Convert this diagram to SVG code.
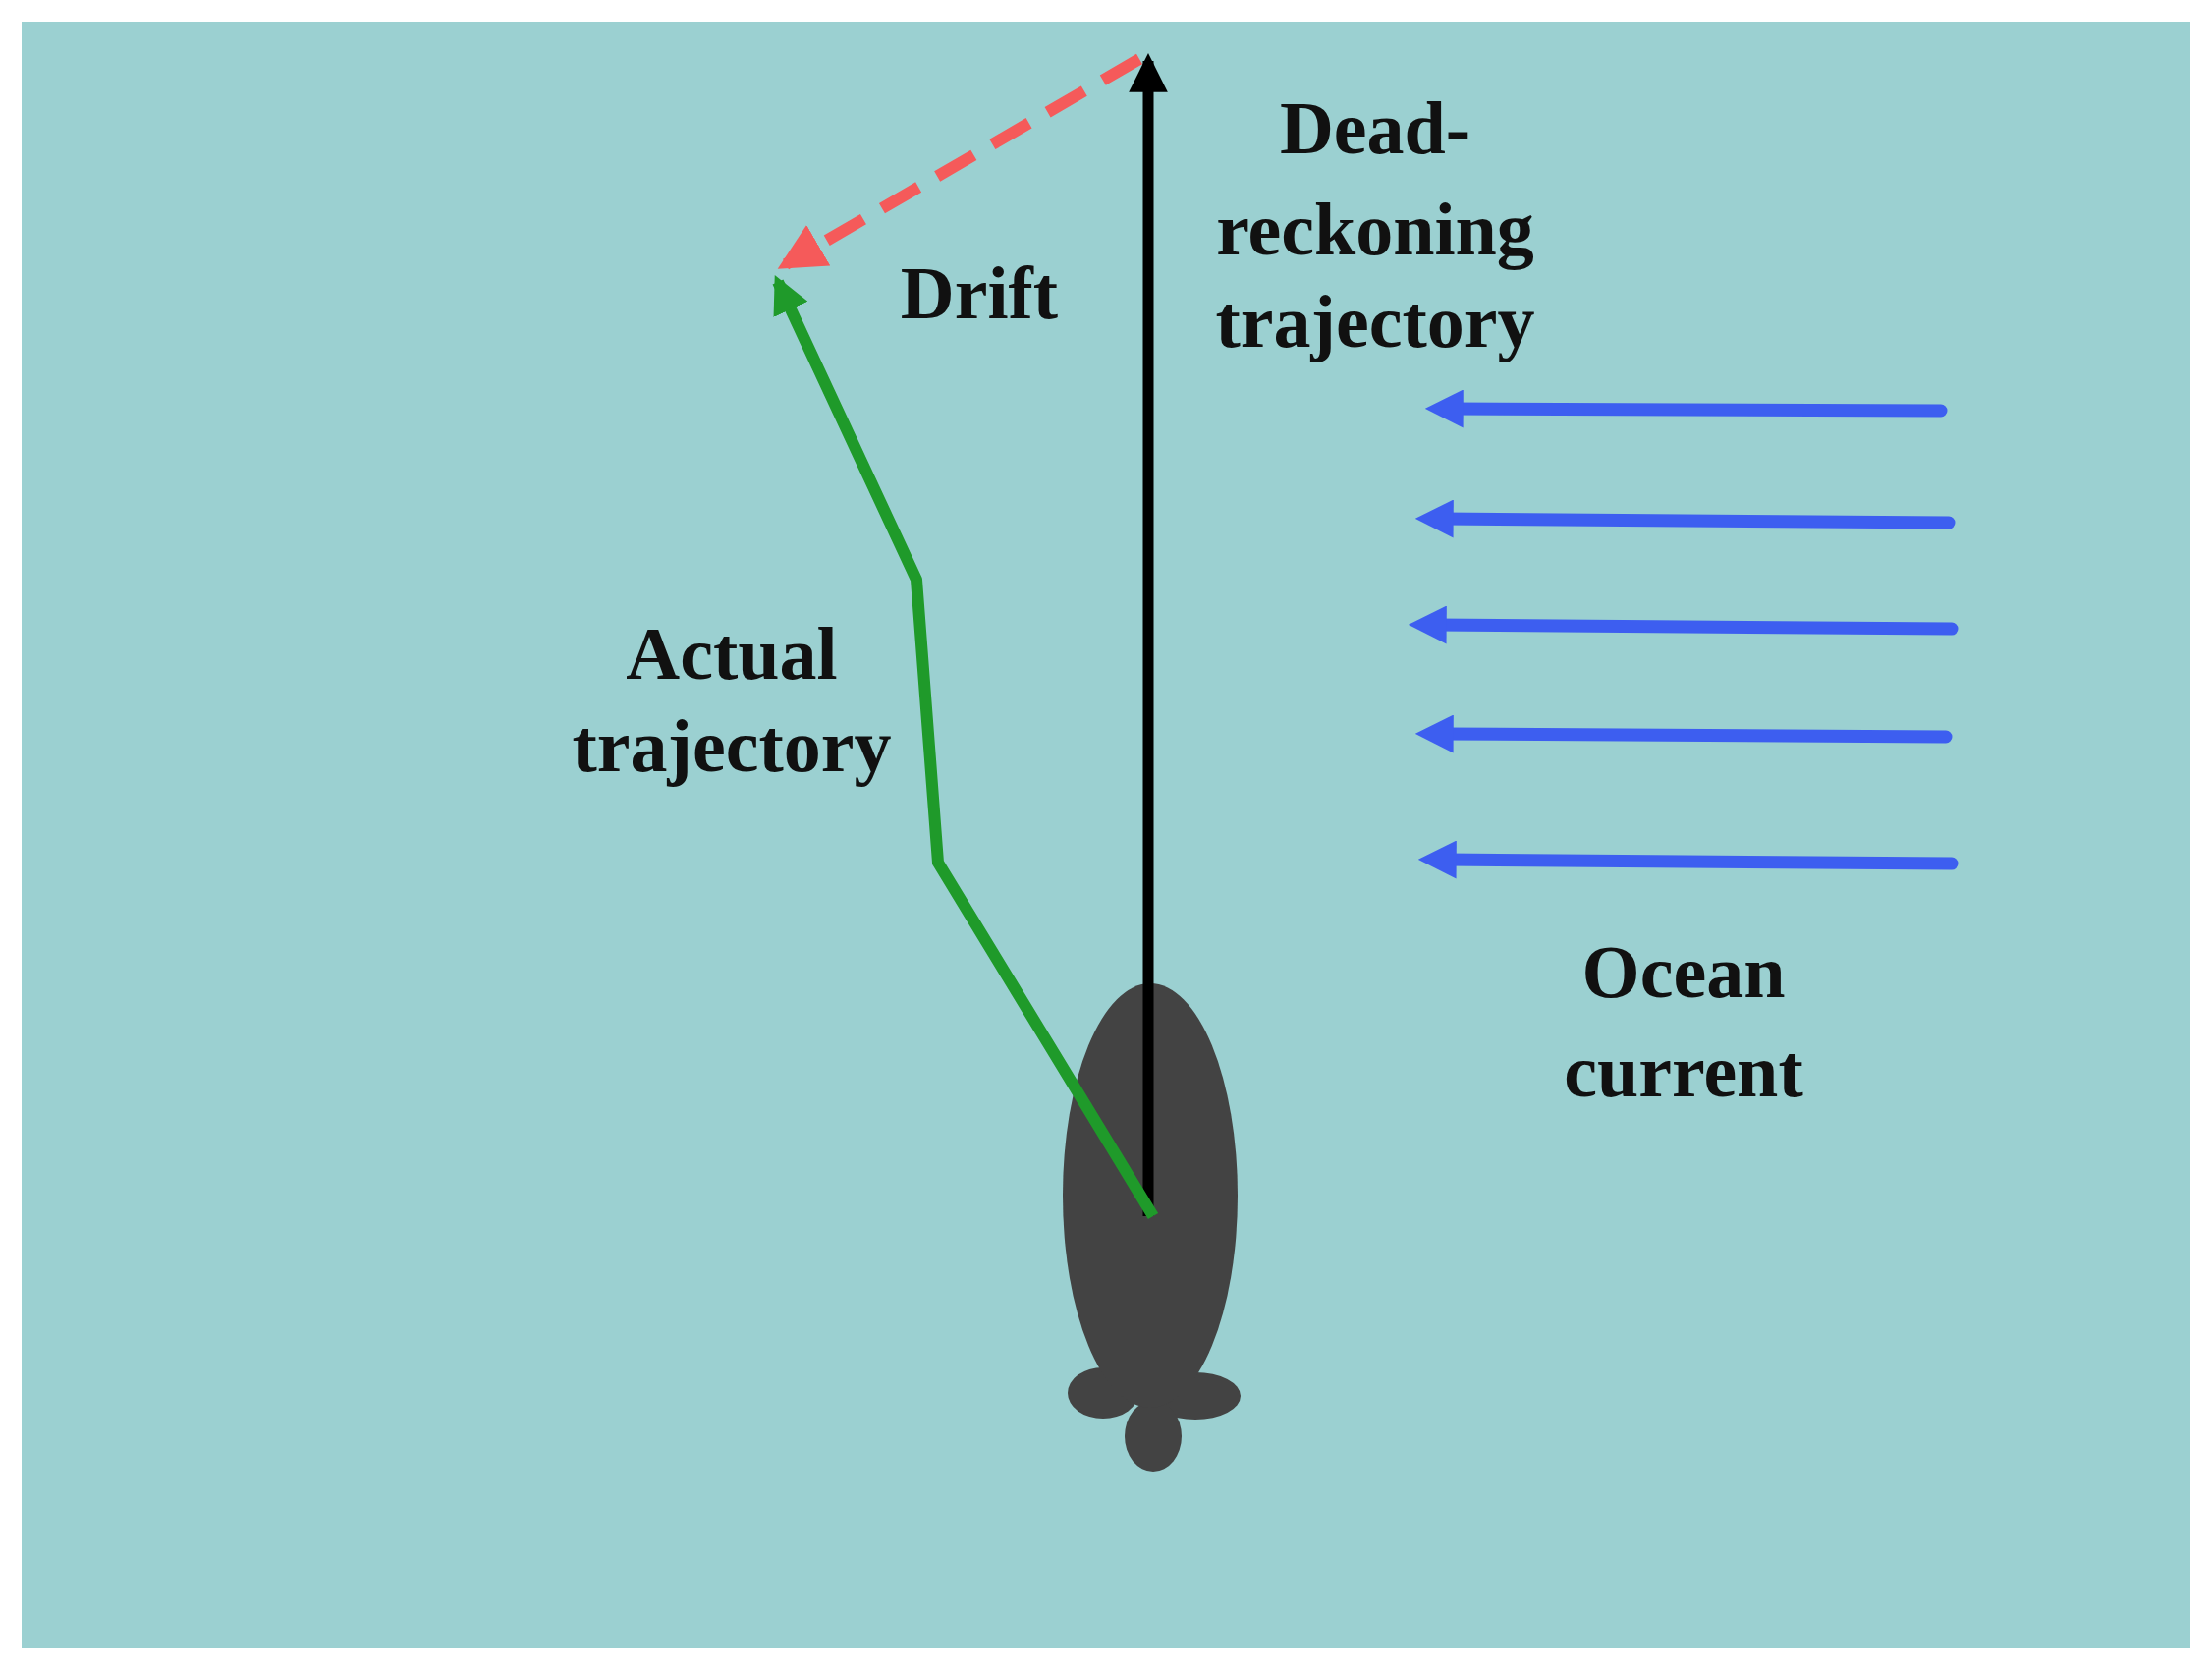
<svg xmlns="http://www.w3.org/2000/svg" width="2252" height="1702" viewBox="0 0 2252 1702">
<defs>
<style>
text{font-family:"Liberation Serif","DejaVu Serif",serif;font-weight:bold;font-size:76px;fill:#111;text-anchor:middle}
.blue{stroke:#3d5ef0;stroke-width:13;stroke-linecap:round;fill:none}
</style>
<marker id="ab" viewBox="0 0 10 10" refX="3" refY="5" markerWidth="3" markerHeight="3" orient="auto"><path d="M0,0L10,5L0,10z" fill="#3d5ef0"/></marker>
<marker id="ak" viewBox="0 0 10 10" refX="8" refY="5" markerWidth="3.6" markerHeight="3.6" orient="auto"><path d="M0,0L10,5L0,10z" fill="#000"/></marker>
<marker id="ar" viewBox="0 0 10 10" refX="8" refY="5" markerWidth="4" markerHeight="4" orient="auto"><path d="M0,0L10,5L0,10z" fill="#f55a5a"/></marker>
<marker id="ag" viewBox="0 0 10 10" refX="8" refY="5" markerWidth="3.2" markerHeight="3.2" orient="auto"><path d="M0,0L10,5L0,10z" fill="#1f9a2a"/></marker>
</defs>
<rect width="2252" height="1702" fill="#fff"/>
<rect x="22" y="22" width="2208" height="1656" fill="#9bd0d1"/>
<g id="vehicle" fill="#434343">
<ellipse cx="1123" cy="1418" rx="36" ry="26"/>
<ellipse cx="1217" cy="1421" rx="46" ry="24"/>
<ellipse cx="1174" cy="1462" rx="29" ry="36"/>
<ellipse cx="1171" cy="1217" rx="89" ry="216"/>
</g>
<g id="connectors">
<line x1="1169" y1="1238" x2="1169" y2="62" stroke="#000" stroke-width="11" marker-end="url(#ak)"/>
<line x1="1160" y1="60" x2="800" y2="269" stroke="#f55a5a" stroke-width="12" stroke-dasharray="43,22" marker-end="url(#ar)"/>
<polyline points="1174,1238 955,878 933,590 792,287" fill="none" stroke="#1f9a2a" stroke-width="12" stroke-linejoin="round" marker-end="url(#ag)"/>
<line class="blue" x1="1976" y1="418" x2="1478" y2="416" marker-end="url(#ab)"/>
<line class="blue" x1="1984" y1="532" x2="1468" y2="528" marker-end="url(#ab)"/>
<line class="blue" x1="1987" y1="640" x2="1461" y2="636" marker-end="url(#ab)"/>
<line class="blue" x1="1981" y1="750" x2="1468" y2="747" marker-end="url(#ab)"/>
<line class="blue" x1="1987" y1="879" x2="1471" y2="875" marker-end="url(#ab)"/>
</g>
<g id="labels">
<text x="1400" y="156">Dead-</text>
<text x="1400" y="259">reckoning</text>
<text x="1400" y="353">trajectory</text>
<text x="997" y="324">Drift</text>
<text x="745" y="691">Actual</text>
<text x="745" y="785">trajectory</text>
<text x="1714" y="1015">Ocean</text>
<text x="1714" y="1116">current</text>
</g>
</svg>
